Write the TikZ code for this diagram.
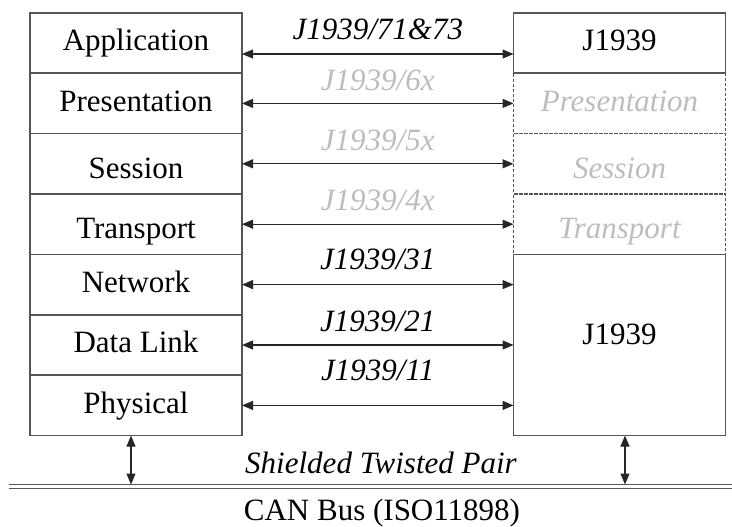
\documentclass[tikz,border=0pt]{standalone}
\usepackage{fontspec}
\setmainfont{Liberation Serif}
\usetikzlibrary{positioning,arrows.meta}
\definecolor{boxgray}{HTML}{555555}
\definecolor{fadegray}{HTML}{BDBDBD}

\begin{document}
\begin{tikzpicture}[x=0.5pt,y=-0.5pt,
  font=\fontsize{15.5}{18}\selectfont,
  layer/.style={draw=boxgray, line width=0.75pt, minimum width=106pt, minimum height=30.2pt, inner sep=0pt, outer sep=0pt, text height=0.96em, text depth=0.2em},
  lowtext/.style={text height=1.62em},
  ghost/.style={layer, dash pattern=on 1.5pt off 1pt, line width=0.6pt, text=fadegray, font=\fontsize{15.5}{18}\selectfont\itshape},
  link/.style={{Triangle[length=5.5pt,width=4.5pt]}-{Triangle[length=5.5pt,width=4.5pt]}, draw=black!85, line width=0.55pt},
  lbl/.style={font=\fontsize{15.5}{18}\selectfont\itshape, anchor=base, inner sep=0pt},
  lblg/.style={lbl, text=fadegray}]
\useasboundingbox (0,0) rectangle (732,526);

% OSI stack
\node[layer] (app) at (136,43) {Application};
\node[layer, below=0pt of app] (pres) {Presentation};
\node[layer, lowtext, below=0pt of pres] (sess) {Session};
\node[layer, lowtext, below=0pt of sess] (trans) {Transport};
\node[layer, below=0pt of trans] (net) {Network};
\node[layer, below=0pt of net] (dl) {Data Link};
\node[layer, below=0pt of dl] (phys) {Physical};

% J1939 stack
\node[layer] (rapp) at (619.5,43) {J1939};
\node[ghost, below=0pt of rapp] (rpres) {Presentation};
\node[ghost, lowtext, below=0pt of rpres] (rsess) {Session};
\node[ghost, lowtext, below=0pt of rsess] (rtrans) {Transport};
\node[layer, minimum height=90.6pt, text height=0.7em, text depth=0.76em, below=0pt of rtrans] (rlow) {J1939};

% protocol links
\draw[link] ([yshift=-5.5pt]app.east) -- node[lbl, yshift=7.5pt] {J1939/71\&73} ([yshift=-5.5pt]rapp.west);
\draw[link] (pres.east) -- node[lblg, yshift=6.5pt] {J1939/6x} (rpres.west);
\draw[link] (sess.east) -- node[lblg, yshift=6.5pt] {J1939/5x} (rsess.west);
\draw[link] (trans.east) -- node[lblg, yshift=7pt] {J1939/4x} (rtrans.west);
\draw[link] (net.east) -- node[lbl, yshift=7.5pt] {J1939/31} (net.east -| rlow.west);
\draw[link] (dl.east) -- node[lbl, yshift=7pt] {J1939/21} (dl.east -| rlow.west);
\draw[link] (phys.east) -- node[lbl, yshift=12.5pt] {J1939/11} (phys.east -| rlow.west);

% bus
\coordinate (busL) at (9,486.5);
\coordinate (busR) at (732,486.5);
\coordinate (busTop) at (0,484.5);
\draw[draw=boxgray, double=white, double distance=1.2pt, line width=0.6pt] (busL) -- (busR);
\draw[link] ([xshift=-2.5pt]phys.south) -- ([xshift=-2.5pt]phys.south |- busTop);
\draw[link] ([xshift=2.75pt]rlow.south) -- ([xshift=2.75pt]rlow.south |- busTop);

\node[lbl] (stp) at (381,473) {Shielded Twisted Pair};
\node[anchor=base, inner sep=0pt] (can) at (382,520) {CAN Bus (ISO11898)};
\end{tikzpicture}
\end{document}
